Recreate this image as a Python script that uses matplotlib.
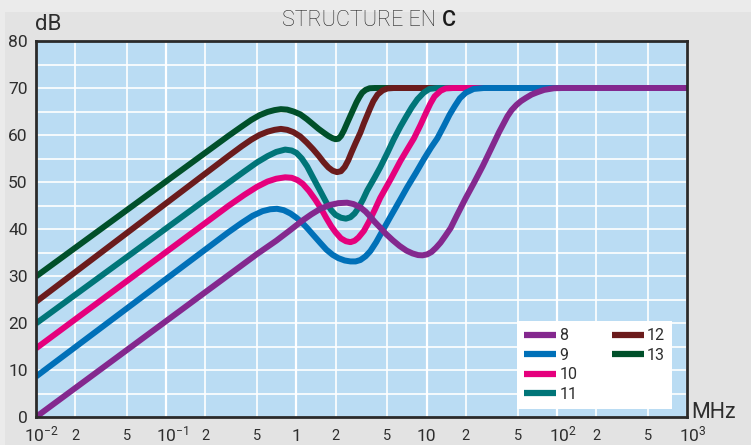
import matplotlib
matplotlib.use("Agg")
import matplotlib.pyplot as plt
from matplotlib.lines import Line2D
from matplotlib.patches import Rectangle
from matplotlib.ticker import FixedLocator, FixedFormatter, NullFormatter
from matplotlib.transforms import ScaledTranslation

FONT = ['Roboto', 'DejaVu Sans']
plt.rcParams['font.family'] = FONT
plt.rcParams['mathtext.fontset'] = 'custom'
plt.rcParams['mathtext.rm'] = 'Roboto'
plt.rcParams['mathtext.it'] = 'Roboto'

# ---- data ----
f8 = [0.01, 0.5, 0.7, 0.9, 1.1, 1.3, 1.53, 1.8, 2.1, 2.45, 2.75, 3.1, 3.4, 3.7, 4.0, 4.4, 4.9, 5.5, 6.2, 7.0,
      7.8, 8.6, 9.3, 10.1, 10.9, 11.8, 12.8, 13.9, 15.3, 17.1, 20, 23.2, 27, 31.2, 36, 41.8, 45, 49, 53, 58,
      64, 71, 80, 95, 110, 1000]
db8 = [0, 34.7, 37.5, 39.8, 41.7, 43.1, 44.3, 45.1, 45.5, 45.6, 45.3, 44.6, 43.7, 42.6, 41.5, 40.3, 38.9, 37.6, 36.4, 35.4,
       34.8, 34.45, 34.4, 34.6, 35.1, 36.0, 37.1, 38.5, 40.2, 42.9, 46.6, 49.9, 53.4, 57.0, 60.6, 64.0, 65.3, 66.4, 67.2, 67.9,
       68.6, 69.1, 69.6, 69.95, 70, 70]

f9 = [0.01, 0.3, 0.38, 0.46, 0.55, 0.63, 0.71, 0.8, 0.9, 1.0, 1.1, 1.21, 1.35, 1.53, 1.7, 1.9, 2.1, 2.35, 2.6, 2.85,
      3.1, 3.4, 3.7, 4.1, 4.5, 5.3, 6.2, 7.1, 8.3, 9.5, 10.8, 12.1, 13.5, 15, 16.5, 18, 20, 23, 27.5, 1000]
db9 = [8.6, 39.3, 41.3, 42.8, 43.8, 44.2, 44.3, 44.0, 43.3, 42.4, 41.4, 40.2, 38.7, 37.0, 35.6, 34.5, 33.8, 33.3, 33.1, 33.1,
       33.4, 34.2, 35.3, 37.2, 39.2, 42.7, 46.0, 48.9, 52.0, 54.8, 57.3, 59.3, 61.8, 64.3, 66.2, 67.8, 69.0, 69.8, 70, 70]

f10 = [0.01, 0.3, 0.4, 0.5, 0.6, 0.7, 0.82, 0.92, 1.02, 1.12, 1.25, 1.4, 1.55, 1.7, 1.85, 2.0, 2.2, 2.4, 2.6, 2.8,
       3.0, 3.3, 3.6, 4.0, 4.4, 5.3, 6.3, 7.2, 8.0, 9.0, 10.0, 10.7, 11.5, 12.8, 14, 16, 1000]
db10 = [14.6, 44.9, 47.3, 49.0, 50.1, 50.7, 51.0, 50.9, 50.4, 49.6, 48.1, 46.2, 44.3, 42.3, 40.6, 39.3, 38.0, 37.4, 37.2, 37.5,
        38.2, 39.6, 41.5, 44.1, 46.6, 50.6, 54.5, 57.2, 59.3, 62.2, 65.0, 66.7, 68.2, 69.4, 69.9, 70, 70]

f11 = [0.01, 0.3, 0.4, 0.5, 0.6, 0.7, 0.82, 0.92, 1.0, 1.1, 1.21, 1.35, 1.53, 1.7, 1.85, 2.0, 2.2, 2.4, 2.6, 2.8,
       3.0, 3.25, 3.5, 4.0, 4.4, 5.0, 5.6, 6.3, 7.0, 7.7, 8.5, 9.5, 10.5, 12, 1000]
db11 = [19.9, 49.8, 52.3, 54.2, 55.5, 56.4, 56.9, 56.7, 56.2, 55.0, 53.3, 50.8, 48.0, 45.6, 44.0, 43.0, 42.4, 42.2, 42.5, 43.3,
        44.5, 46.3, 48.2, 51.0, 53.1, 56.2, 59.1, 61.8, 64.0, 65.9, 67.6, 69.0, 69.8, 70, 70]

f12 = [0.01, 0.3, 0.38, 0.45, 0.52, 0.6, 0.68, 0.76, 0.85, 0.95, 1.07, 1.2, 1.34, 1.48, 1.62, 1.76, 1.9, 2.05, 2.2, 2.35,
       2.5, 2.65, 2.85, 3.1, 3.3, 3.5, 3.7, 3.9, 4.2, 4.6, 5.0, 5.6, 1000]
db12 = [24.5, 55.5, 57.6, 59.0, 60.0, 60.7, 61.1, 61.3, 61.1, 60.6, 59.7, 58.4, 57.0, 55.6, 54.2, 53.1, 52.4, 52.1, 52.3, 53.2,
        54.6, 56.3, 58.3, 60.5, 62.5, 64.2, 65.8, 67.2, 68.6, 69.5, 69.9, 70, 70]

f13 = [0.01, 0.3, 0.38, 0.45, 0.52, 0.6, 0.68, 0.76, 0.85, 0.95, 1.07, 1.2, 1.34, 1.48, 1.62, 1.76, 1.9, 2.0, 2.1, 2.2,
       2.32, 2.45, 2.6, 2.75, 2.9, 3.05, 3.2, 3.4, 3.65, 4.0, 1000]
db13 = [29.9, 59.8, 61.8, 63.2, 64.2, 64.9, 65.3, 65.5, 65.4, 65.0, 64.4, 63.4, 62.3, 61.3, 60.5, 59.8, 59.3, 59.1, 59.2, 59.8,
        61.0, 62.5, 64.1, 65.6, 67.0, 68.1, 69.0, 69.6, 69.95, 70, 70]

labels = ['8', '9', '10', '11', '12', '13']
colors = ['#84288e', '#0070b8', '#e5007d', '#007578', '#6b1b1c', '#00502a']
series = [(f8, db8), (f9, db9), (f10, db10), (f11, db11), (f12, db12), (f13, db13)]

y_ticks = [0, 10, 20, 30, 40, 50, 60, 70, 80]
x_major = [0.01, 0.1, 1, 10, 100, 1000]
x_major_labels = ['10$^{-2}$', '10$^{-1}$', '1', '10', '10$^{2}$', '10$^{3}$']
x_minor = [0.02, 0.05, 0.2, 0.5, 2, 5, 20, 50, 200, 500]
x_minor_labels = ['2', '5'] * 5

# ---- figure ----
fig = plt.figure(figsize=(7.51, 4.45), dpi=100, facecolor='#ebebeb')
fig.patches.append(Rectangle((5 / 751, 0), 1, 1 - 12 / 445, transform=fig.transFigure,
                             facecolor='#e3e3e3', edgecolor='none', zorder=-10))
ax = fig.add_axes([36 / 751, 28 / 445, 651 / 751, 376 / 445])
ax.set_facecolor('#badcf3')
ax.set_xscale('log')
ax.set_xlim(0.01, 1000)
ax.set_ylim(0, 80)

# grid
for v in x_major:
    ax.axvline(v, color='white', lw=1.6, zorder=1)
for v in x_minor:
    ax.axvline(v, color='white', lw=1.2, zorder=1)
for h in range(5, 80, 5):
    ax.axhline(h, color='white', lw=1.2, zorder=1)

handles = {}
for lab, col, (f, d) in reversed(list(zip(labels, colors, series))):
    ln, = ax.plot(f, d, color=col, lw=4.3, solid_joinstyle='round', solid_capstyle='butt', zorder=3, label=lab)
    handles[lab] = ln

# ticks
ax.yaxis.set_major_locator(FixedLocator(y_ticks))
ax.set_yticklabels([str(v) for v in y_ticks])
ax.xaxis.set_major_locator(FixedLocator(x_major))
ax.xaxis.set_major_formatter(FixedFormatter(x_major_labels))
ax.xaxis.set_minor_locator(FixedLocator(x_minor))
ax.xaxis.set_minor_formatter(FixedFormatter(x_minor_labels))
ax.yaxis.set_minor_formatter(NullFormatter())
ax.tick_params(axis='y', which='both', length=0, pad=6, labelsize=12.5, labelcolor='#2e2e2e')
ax.tick_params(axis='x', which='major', length=0, pad=0, labelsize=12.5, labelcolor='#2e2e2e')
ax.tick_params(axis='x', which='minor', length=0, pad=0, labelsize=10.5, labelcolor='#2e2e2e')

# align all x labels on a common baseline; centre the "10" base of power labels on the tick
for t, txt in zip(ax.xaxis.get_majorticklabels(), x_major_labels):
    t.set_verticalalignment('baseline')
    dx = 6 / 100 if '$' in txt else 0
    t.set_transform(t.get_transform() + ScaledTranslation(dx, -24 / 100, fig.dpi_scale_trans))
for t in ax.xaxis.get_minorticklabels():
    t.set_verticalalignment('baseline')
    t.set_transform(t.get_transform() + ScaledTranslation(0, -23 / 100, fig.dpi_scale_trans))

for s in ax.spines.values():
    s.set_color('#2a2a2a')
    s.set_linewidth(2.0)
    s.set_zorder(5)

# legend: 8-11 in first column, 12-13 in second
blank = Line2D([], [], color='none')
hl = [handles[l] for l in labels] + [blank, blank]
ll = labels + ['', '']
leg = ax.legend(hl, ll, ncol=2, loc='lower left', bbox_to_anchor=(0.739, 0.021, 0.238, 0.242),
                mode='expand', borderaxespad=0, frameon=True, fancybox=False, framealpha=1,
                edgecolor='none', facecolor='white', fontsize=11.5, handlelength=2.0, handletextpad=0.2,
                labelspacing=0.28, borderpad=0.45, columnspacing=1.0)
leg.set_zorder(6)
for t in leg.get_texts():
    t.set_color('#2e2e2e')
for h in leg.legend_handles:
    h.set_linewidth(4.5)

# title: light "STRUCTURE EN " followed by regular "C", centred as a whole
renderer = fig.canvas.get_renderer()
ty = 1 - 20 / 445
t1 = fig.text(0, ty, 'STRUCTURE EN ', ha='left', va='center', fontsize=15.5, fontweight='light', color='#222222')
t2 = fig.text(0, ty, 'C', ha='left', va='center', fontsize=15.5, fontweight='medium', color='#1a1a1a')
w1 = t1.get_window_extent(renderer).width
w2 = t2.get_window_extent(renderer).width
x0 = 369 - (w1 + w2) / 2
t1.set_x(x0 / 751)
t2.set_x((x0 + w1) / 751)

fig.text(48 / 751, 1 - 25 / 445, 'dB', ha='center', va='center', fontsize=16, color='#2e2e2e')
fig.text(714 / 751, 1 - 412 / 445, 'MHz', ha='center', va='center', fontsize=15.5, color='#2e2e2e')

fig.savefig('out.png', dpi=100, facecolor=fig.get_facecolor())
